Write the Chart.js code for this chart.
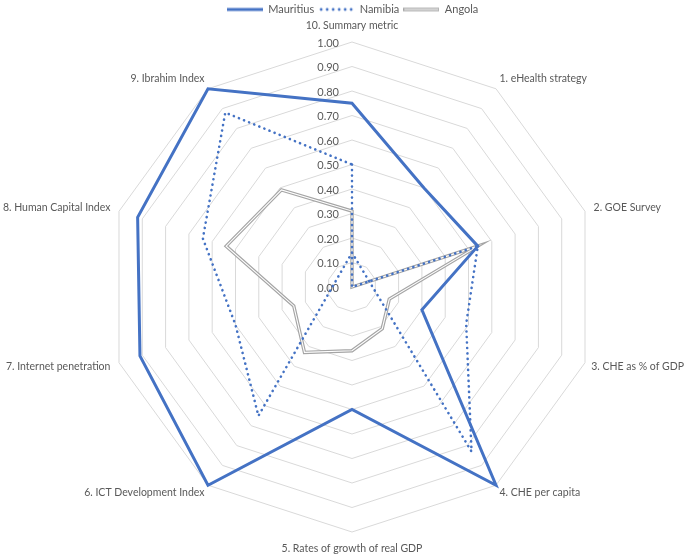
<!DOCTYPE html>
<html>
<head>
<meta charset="utf-8">
<script src="https://cdn.jsdelivr.net/npm/chart.js@4.4.1/dist/chart.umd.min.js"></script>
<style>
  html, body { margin: 0; padding: 0; background: #fff; }
  #wrap { width: 685px; height: 556px; }
</style>
</head>
<body>
<div id="wrap"><canvas id="myChart"></canvas></div>
<script>
// axis names, clockwise from the top
var categories = [
  "10. Summary metric",
  "1. eHealth strategy",
  "2. GOE Survey",
  "3. CHE as % of GDP",
  "4. CHE per capita",
  "5. Rates of growth of real GDP",
  "6. ICT Development Index",
  "7. Internet penetration",
  "8. Human Capital Index",
  "9. Ibrahim Index"
];

// series values (same order as categories)
var mauritius = [0.75, 0.50, 0.54, 0.30, 1.00, 0.50, 1.00, 0.91, 0.92, 1.00];
var namibia = [0.50, 0.00, 0.54, 0.49, 0.83, -0.14, 0.65, 0.50, 0.64, 0.88];
var angola = [0.31, 0.00, 0.54, 0.16, 0.21, 0.26, 0.33, 0.25, 0.54, 0.49];

// tick labels of the radial axis
var tickValues = [0, 0.1, 0.2, 0.3, 0.4, 0.5, 0.6, 0.7, 0.8, 0.9, 1.0];

var blue = "#4472C4";
var grey = "#A5A5A5";
var textColor = "#595959";

// small canvas used as legend sample
function legendSample(type) {
  var c = document.createElement("canvas");
  c.width = 36;
  c.height = 6;
  var ctx = c.getContext("2d");
  if (type == "solid") {
    ctx.strokeStyle = blue;
    ctx.lineWidth = 3;
    ctx.beginPath();
    ctx.moveTo(0, 3);
    ctx.lineTo(36, 3);
    ctx.stroke();
  } else if (type == "dots") {
    ctx.fillStyle = blue;
    for (var i = 0; i < 6; i++) {
      ctx.beginPath();
      ctx.arc(3 + i * 6, 3, 1.4, 0, Math.PI * 2);
      ctx.fill();
    }
  } else {
    ctx.strokeStyle = grey;
    ctx.lineWidth = 3.4;
    ctx.beginPath();
    ctx.moveTo(0, 3);
    ctx.lineTo(36, 3);
    ctx.stroke();
    ctx.strokeStyle = "#fff";
    ctx.lineWidth = 1.2;
    ctx.beginPath();
    ctx.moveTo(1, 3);
    ctx.lineTo(35, 3);
    ctx.stroke();
  }
  return c;
}

// axis names and tick labels placed the excel way
var labelPlugin = {
  id: "excelLabels",
  afterLayout: function(chart) {
    // legend in the reference sits a bit right of the middle
    chart.legend.left += 10;
    chart.legend.right += 10;
  },
  beforeDatasetsDraw: function(chart) {
    var scale = chart.scales.r;
    var ctx = chart.ctx;
    ctx.save();
    ctx.font = "11px Lato";
    ctx.fillStyle = textColor;
    ctx.textAlign = "right";
    ctx.textBaseline = "middle";
    for (var i = 0; i < tickValues.length; i++) {
      var d = scale.getDistanceFromCenterForValue(tickValues[i]);
      ctx.fillText(tickValues[i].toFixed(2), scale.xCenter - 13, scale.yCenter - d + 1);
    }

    ctx.font = "10.5px Lato";
    for (var j = 0; j < categories.length; j++) {
      var a = scale.getIndexAngle(j);
      var s = Math.sin(a);
      var c = Math.cos(a);
      var gap = 9;
      var dy = 0;
      if (Math.abs(c) > 0.99) {
        gap = 11;
        ctx.textAlign = "center";
        ctx.textBaseline = c > 0 ? "bottom" : "top";
      } else {
        ctx.textAlign = s > 0 ? "left" : "right";
        ctx.textBaseline = "middle";
        if (Math.abs(c) > 0.5) {
          gap = 6;
          dy = c > 0 ? -5 : 3;
        } else {
          dy = c > 0 ? -1 : 1;
        }
      }
      var p = scale.getPointPosition(j, scale.drawingArea + gap);
      var w = ctx.measureText(categories[j]).width;
      var x = p.x;
      // keep the text inside the canvas, excel pushes it back in
      if (ctx.textAlign == "left" && x + w > chart.width - 1) x = chart.width - 1 - w;
      if (ctx.textAlign == "right" && x - w < 1) x = 1 + w;
      ctx.fillText(categories[j], x, p.y + dy);
    }
    ctx.restore();
  }
};

function init() {
  var ctx = document.getElementById("myChart").getContext("2d");
  var myChart = new Chart(ctx, {
    type: "radar",
    data: {
      labels: categories,
      datasets: [{
        label: "Mauritius",
        data: mauritius,
        borderColor: blue,
        borderWidth: 3,
        fill: false,
        pointRadius: 0,
        pointStyle: legendSample("solid"),
        order: 0
      }, {
        label: "Namibia",
        data: namibia,
        borderColor: blue,
        borderWidth: 2.6,
        borderDash: [0.1, 5.4],
        borderCapStyle: "round",
        fill: false,
        pointRadius: 0,
        pointStyle: legendSample("dots"),
        order: 1
      }, {
        label: "inner",
        data: angola,
        borderColor: "#fff",
        borderWidth: 1.1,
        fill: false,
        pointRadius: 0,
        order: 2
      }, {
        label: "Angola",
        data: angola,
        borderColor: grey,
        borderWidth: 3.4,
        fill: false,
        pointRadius: 0,
        pointStyle: legendSample("double"),
        order: 3
      }]
    },
    options: {
      responsive: true,
      maintainAspectRatio: false,
      animation: false,
      elements: { line: { tension: 0 } },
      scales: {
        r: {
          min: 0,
          max: 1,
          afterBuildTicks: function(scale) {
            scale.ticks = tickValues.map(function(v) { return { value: v }; });
          },
          // plot area of the reference: centre and radius
          afterFit: function(scale) {
            scale.xCenter = 352;
            scale.yCenter = 287;
            scale.drawingArea = 245;
          },
          angleLines: { display: false },
          grid: { color: "#D9D9D9", lineWidth: 1 },
          ticks: { display: false },
          pointLabels: { display: false }
        }
      },
      plugins: {
        tooltip: { enabled: false },
        legend: {
          position: "top",
          labels: {
            usePointStyle: true,
            pointStyleWidth: 36,
            padding: 4,
            color: textColor,
            font: { family: "Lato", size: 11 },
            filter: function(item) { return item.text != "inner"; }
          }
        }
      }
    },
    plugins: [labelPlugin]
  });
}

init();
</script>
</body>
</html>
